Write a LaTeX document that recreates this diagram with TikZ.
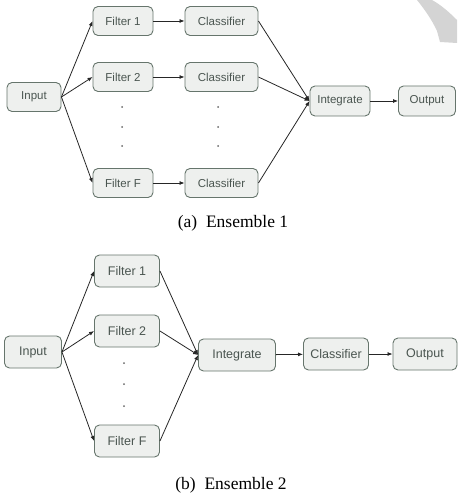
\documentclass[tikz,border=0pt]{standalone}
\usepackage{fontspec}
\setmainfont{Liberation Serif}
\newfontfamily\boxfont{Liberation Sans}
\usetikzlibrary{arrows.meta}
\definecolor{boxfill}{HTML}{EEF0EE}
\definecolor{boxline}{HTML}{66756C}
\definecolor{boxtext}{HTML}{4A5550}
\definecolor{wmark}{HTML}{D4D4D4}
\tikzset{
  blk/.style={draw=boxline, fill=boxfill, rounded corners=5pt, line width=0.9pt,
    inner sep=0pt, align=center, text=boxtext},
  blka/.style={blk, font=\boxfont\fontsize{11.5}{13}\selectfont, minimum height=29pt},
  blkb/.style={blk, font=\boxfont\fontsize{12.5}{14}\selectfont, minimum height=32pt},
  arr/.style={-{Latex[length=5pt,width=4pt]}, line width=0.8pt, draw=black!85},
  dotm/.style={circle, fill=black!60, inner sep=0pt, minimum size=2pt},
  captxt/.style={font=\fontsize{17.5}{20}\selectfont, text=black}
}
\begin{document}
\begin{tikzpicture}[x=1pt,y=-1pt]
\useasboundingbox (0,0) rectangle (457,497);
% watermark
\fill[wmark] (417,0) .. controls (425,10) and (432,20) .. (437,31) -- (440,42)
  -- (457,43) -- (457,20) .. controls (449,12) and (441,5) .. (432,0) -- cycle;

% ---------- Ensemble 1 ----------
\node[blka, minimum width=54pt] (inA) at (34,97) {Input};
\node[blka, minimum width=60pt] (f1A) at (123,21) {Filter 1};
\node[blka, minimum width=60pt] (f2A) at (123,77) {Filter 2};
\node[blka, minimum width=60pt] (fFA) at (123,183) {Filter F};
\node[blka, minimum width=73pt] (c1A) at (221.5,21) {Classifier};
\node[blka, minimum width=73pt] (c2A) at (221.5,77) {Classifier};
\node[blka, minimum width=73pt] (cFA) at (221.5,183) {Classifier};
\node[blka, minimum width=60pt, minimum height=30pt] (intA) at (340,101) {Integrate};
\node[blka, minimum width=57pt, minimum height=30pt] (outA) at (427,101) {Output};
\node[dotm] (d1A) at (122,107) {};
\node[dotm] (d2A) at (122,127) {};
\node[dotm] (d3A) at (122,146) {};
\node[dotm] (e1A) at (218,107) {};
\node[dotm] (e2A) at (218,127) {};
\node[dotm] (e3A) at (218,146) {};
\draw[arr] (inA.east) -- (f1A.west);
\draw[arr] (inA.east) -- (f2A.west);
\draw[arr] (inA.east) -- (fFA.west);
\draw[arr] (f1A) -- (c1A);
\draw[arr] (f2A) -- (c2A);
\draw[arr] (fFA) -- (cFA);
\draw[arr] (c1A.east) -- (intA.west);
\draw[arr] (c2A.east) -- (intA.west);
\draw[arr] (cFA.east) -- (intA.west);
\draw[arr] (intA) -- (outA);
\node[captxt] (capA) at (233,223) {(a)\enspace Ensemble 1};

% ---------- Ensemble 2 ----------
\node[blkb, minimum width=57pt] (inB) at (33,352) {Input};
\node[blkb, minimum width=65pt] (f1B) at (127,271) {Filter 1};
\node[blkb, minimum width=65pt] (f2B) at (127,331) {Filter 2};
\node[blkb, minimum width=65pt] (fFB) at (127,441) {Filter F};
\node[blkb, minimum width=77pt] (intB) at (237,355) {Integrate};
\node[blkb, minimum width=65pt] (clB) at (336,354) {Classifier};
\node[blkb, minimum width=64pt] (outB) at (425,354) {Output};
\node[dotm] (d1B) at (124,363) {};
\node[dotm] (d2B) at (124,384) {};
\node[dotm] (d3B) at (124,406) {};
\draw[arr] (inB.east) -- (f1B.west);
\draw[arr] (inB.east) -- (f2B.west);
\draw[arr] (inB.east) -- (fFB.west);
\draw[arr] (f1B.east) -- (intB.west);
\draw[arr] (f2B.east) -- (intB.west);
\draw[arr] (fFB.east) -- (intB.west);
\draw[arr] (intB) -- (clB);
\draw[arr] (clB) -- (outB);
\node[captxt] (capB) at (231,485) {(b)\enspace Ensemble 2};
\end{tikzpicture}
\end{document}
